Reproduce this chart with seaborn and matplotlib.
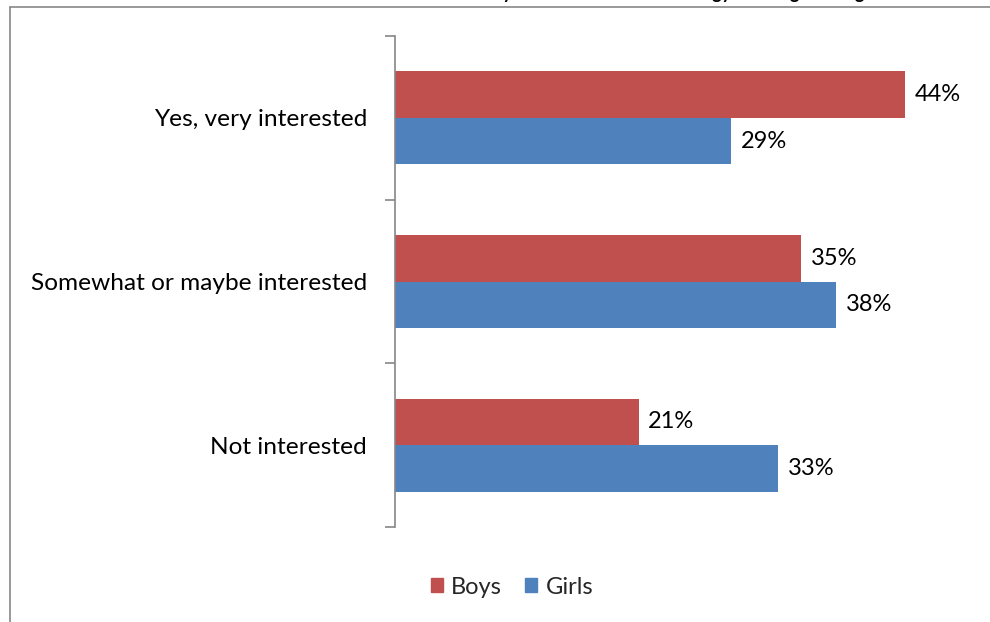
import matplotlib
matplotlib.use("Agg")
import matplotlib.pyplot as plt
from matplotlib.lines import Line2D
from matplotlib.textpath import TextPath
from matplotlib.font_manager import FontProperties
import seaborn as sns
import pandas as pd

# Survey responses (percent)
categories = ["Yes, very interested", "Somewhat or maybe interested", "Not interested"]
boys = [44, 35, 21]
girls = [29, 38, 33]
series = ["Boys", "Girls"]
colors = ["#C0504D", "#4F81BD"]
title = "Interest in Study of Science and Technology and Engineering"

df = pd.DataFrame({
    "category": categories * 2,
    "group": [series[0]] * len(categories) + [series[1]] * len(categories),
    "value": boys + girls,
})

sns.set_theme(style="white")
plt.rcParams["font.family"] = ["Lato", "DejaVu Sans"]

W, H = 990, 622
FS = 17
fig = plt.figure(figsize=(W / 100, H / 100), dpi=100)
ax = fig.add_axes([395 / W, 1 - 527 / H, (975 - 395) / W, (527 - 36) / H])

sns.barplot(data=df, x="value", y="category", hue="group", order=categories,
            hue_order=series, palette=colors, orient="h", width=0.567,
            saturation=1, ax=ax, legend=False, linewidth=0)

ax.set_xlim(0, 50)
ax.set_ylim(2.5, -0.5)
ax.set_xlabel("")
ax.set_ylabel("")
ax.set_xticks([])

# category labels at band centres, tick marks at band edges
ax.tick_params(axis="y", which="major", left=False, length=0, pad=20,
               labelsize=17.6, labelcolor="black")
ax.set_yticks([-0.5, 0.5, 1.5, 2.5], minor=True)
ax.tick_params(axis="y", which="minor", left=True, length=7, width=1.2,
               color="#868686", direction="out")

for s in ["top", "right", "bottom"]:
    ax.spines[s].set_visible(False)
ax.spines["left"].set_color("#868686")
ax.spines["left"].set_linewidth(1.2)

# value labels
for cont in ax.containers:
    ax.bar_label(cont, labels=[f"{v:.0f}%" for v in cont.datavalues],
                 padding=7, fontsize=FS, color="black")

# legend
handles = [plt.Rectangle((0, 0), 1, 1, color=c) for c in colors]
fig.legend(handles, series, loc="center", bbox_to_anchor=(512 / W, 1 - 587 / H),
           ncol=2, frameon=False, fontsize=FS, handlelength=0.5, handleheight=0.5,
           handletextpad=0.35, columnspacing=1.0)

# chart-area border
fig.add_artist(Line2D([10 / W, 10 / W], [1 - 7 / H, -0.1], transform=fig.transFigure,
                      color="#888888", linewidth=1.2))
fig.add_artist(Line2D([10 / W, 1.1], [1 - 7 / H, 1 - 7 / H], transform=fig.transFigure,
                      color="#888888", linewidth=1.2))

# title sits mostly above the visible area
tfs = 13
fp = FontProperties(family="Lato", weight="bold", size=tfs)
prefix_w = TextPath((0, 0), "Interest in Study of Science and Technolo", prop=fp).get_extents().width
x0 = 710 - prefix_w * 100 / 72
fig.text(x0 / W, 1 + 1.0 / H, title, ha="left", va="baseline",
         fontproperties=fp, color="black")

fig.savefig("out.png", dpi=100)
